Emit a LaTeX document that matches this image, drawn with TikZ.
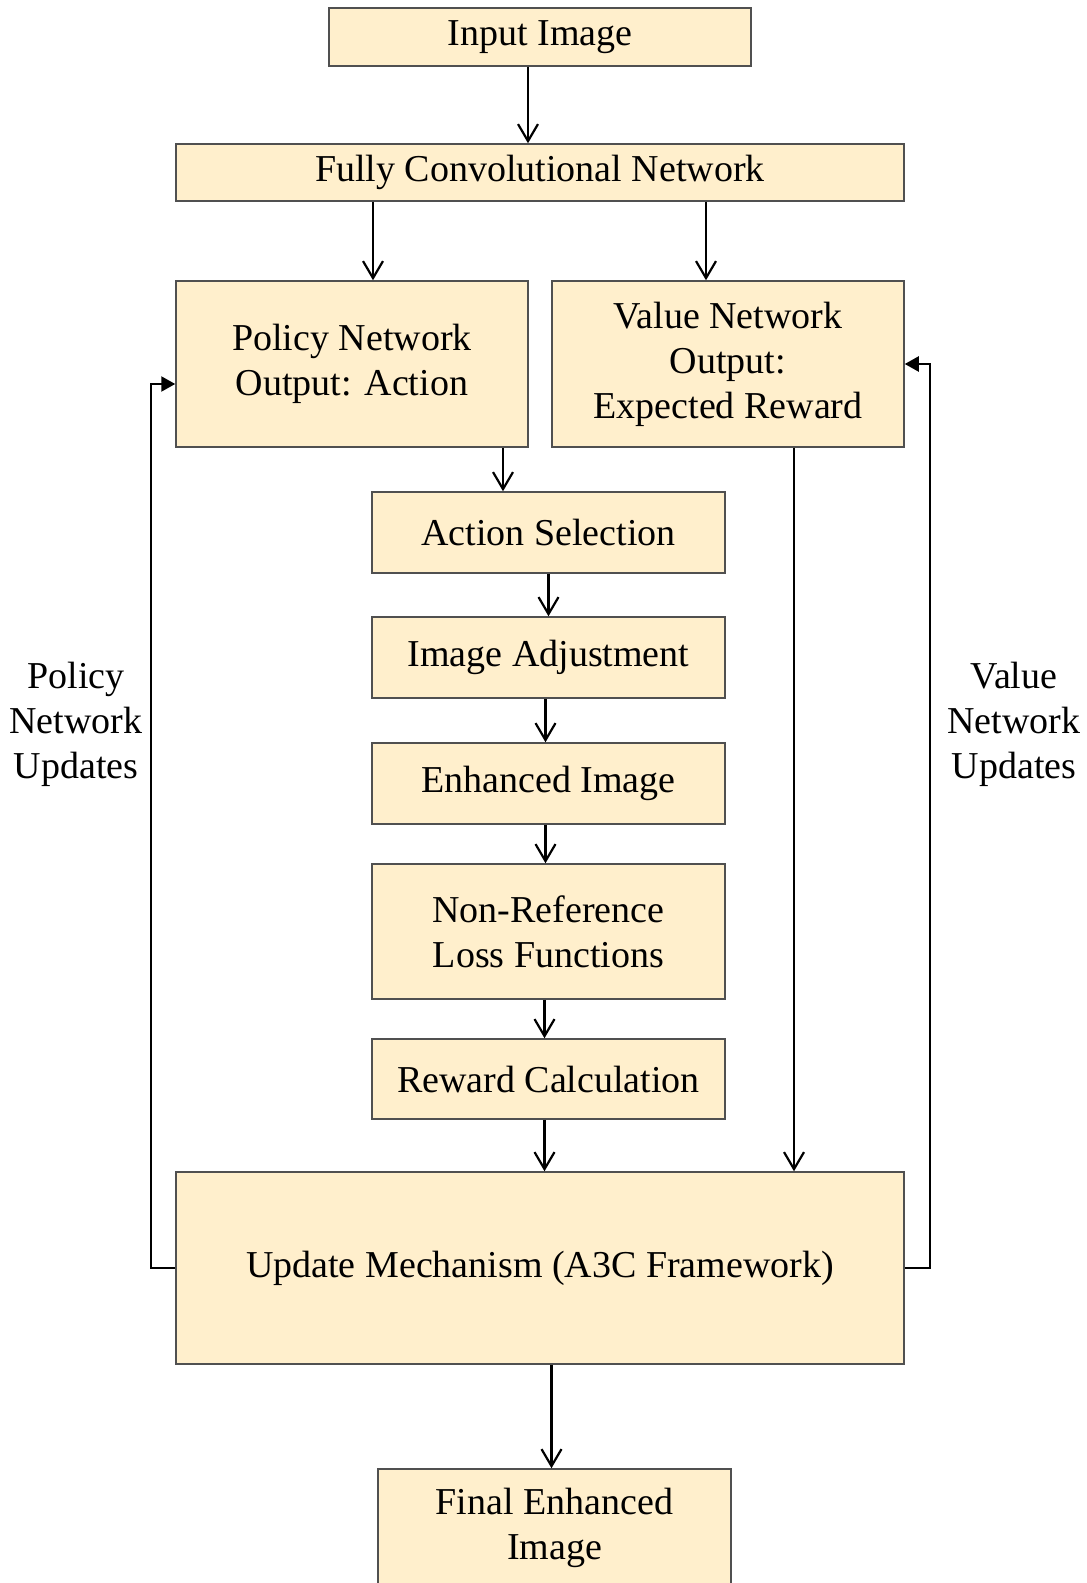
\documentclass[tikz,border=0pt]{standalone}
\usepackage{fontspec}
\setmainfont{Liberation Serif}
\usetikzlibrary{arrows.meta}

\definecolor{boxfill}{RGB}{255,239,204}
\definecolor{boxline}{RGB}{80,80,80}

\tikzset{every picture/.style={line width=0.75pt}}
\tikzset{
  blockbox/.style={draw=boxline, fill=boxfill, line width=0.75pt, rectangle, align=center, inner sep=0pt, font=\fontsize{19}{22.5}\selectfont},
  sidelabel/.style={align=center, font=\fontsize{19}{22.5}\selectfont},
  flow/.style={line width=1.1pt, -{Straight Barb[length=8.5pt,width=10pt,line width=1.1pt]}},
  fback/.style={line width=1.1pt, -{Triangle[length=7pt,width=7.5pt]}}
}

\begin{document}
\begin{tikzpicture}[x=0.5pt,y=0.5pt,yscale=-1,xscale=1]
\useasboundingbox (0,0) rectangle (1086,1583);

% Boxes
\node [blockbox, minimum width=211pt, minimum height=29pt] (in) at (540,37) {Input Image};
\node [blockbox, minimum width=364pt, minimum height=28.5pt] (fcn) at (540,172.5) {Fully Convolutional Network};
\node [blockbox, minimum width=176pt, minimum height=83pt] (pol) at (352,364) {Policy Network\\Output: Action};
\node [blockbox, minimum width=176pt, minimum height=83pt] (val) at (728,364) {Value Network\\Output:\\Expected Reward};
\node [blockbox, minimum width=176.5pt, minimum height=40.5pt] (act) at (548.5,532.5) {Action Selection};
\node [blockbox, minimum width=176.5pt, minimum height=40.5pt] (adj) at (548.5,657.5) {Image Adjustment};
\node [blockbox, minimum width=176.5pt, minimum height=40.5pt] (enh) at (548.5,783.5) {Enhanced Image};
\node [blockbox, minimum width=176.5pt, minimum height=67.5pt] (nonref) at (548.5,931.5) {Non-Reference\\Loss Functions};
\node [blockbox, minimum width=176.5pt, minimum height=40pt] (rew) at (548.5,1079) {Reward Calculation};
\node [blockbox, minimum width=364pt, minimum height=96pt] (upd) at (540,1268) {Update Mechanism (A3C Framework)};
\node [blockbox, minimum width=176.5pt, minimum height=59pt] (fin) at (554.5,1528) {Final Enhanced\\Image};

% Side labels
\node [sidelabel] (pnu) at (76,724) {Policy\\Network\\Updates};
\node [sidelabel] (vnu) at (1014,724) {Value\\Network\\Updates};

% Main flow
\draw [flow] ([xshift=-6pt]in.south) -- ([xshift=-6pt]in.south |- fcn.north);
\draw [flow] ([xshift=10.5pt]pol.north |- fcn.south) -- ([xshift=10.5pt]pol.north);
\draw [flow] ([xshift=-11pt]val.north |- fcn.south) -- ([xshift=-11pt]val.north);
\draw [flow] ([xshift=-22.75pt]act.north |- pol.south) -- ([xshift=-22.75pt]act.north);
\draw [flow] (act.south) -- (adj.north);
\draw [flow] ([xshift=-1.5pt]adj.south) -- ([xshift=-1.5pt]enh.north);
\draw [flow] ([xshift=-1.5pt]enh.south) -- ([xshift=-1.5pt]nonref.north);
\draw [flow] ([xshift=-2pt]nonref.south) -- ([xshift=-2pt]rew.north);
\draw [flow] ([xshift=-2pt]rew.south) -- ([xshift=-2pt]rew.south |- upd.north);
\draw [flow] ([xshift=33pt]val.south) -- ([xshift=33pt]val.south |- upd.north);
\draw [flow] ([xshift=-1.5pt]upd.south -| fin.north) -- ([xshift=-1.5pt]fin.north);

% Feedback loops
\draw [fback] (upd.west) -- ++(-12pt,0) |- ([yshift=10pt]pol.west);
\draw [fback] (upd.east) -- ++(12.5pt,0) |- (val.east);

\end{tikzpicture}
\end{document}
